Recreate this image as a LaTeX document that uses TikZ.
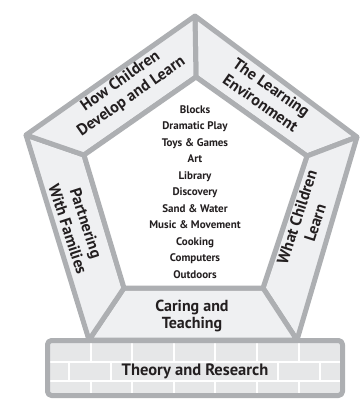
\documentclass[tikz,border=0pt]{standalone}
\usepackage{fontspec}
\setmainfont{PT Sans}
\usepackage{tikz}

\definecolor{rimgray}{RGB}{173,175,178}
\definecolor{segfill}{RGB}{239,240,242}
\definecolor{brickfill}{RGB}{230,231,232}
\definecolor{inkblack}{RGB}{35,31,32}

\tikzset{
  rim/.style={draw=rimgray, line width=5pt, line join=round},
  segment/.style={rim, fill=segfill},
  brickline/.style={draw=white, line width=1.5pt},
  seglabel/.style={font=\bfseries\fontsize{16}{19}\selectfont, align=center, text=inkblack},
  arealabel/.style={font=\bfseries\fontsize{11}{16.5}\selectfont, align=center, text=inkblack}
}

\begin{document}
\begin{tikzpicture}[x=1pt,y=-1pt]
		\useasboundingbox (0,0) rectangle (362,400);
		
		\coordinate (O_1) at (195, 16);
		\coordinate (O_2) at (357, 137);
		\coordinate (O_3) at (297, 340);
		\coordinate (O_4) at (89, 340);
		\coordinate (O_5) at (26, 135);
		
		\coordinate (I_1) at (196, 77);
		\coordinate (I_2) at (307, 156);
		\coordinate (I_3) at (263, 288);
		\coordinate (I_4) at (124, 288);
		\coordinate (I_5) at (84, 155);
		
		% wall
		\fill[brickfill, rounded corners=4pt] (47.5,340.5) rectangle (342.5,395.5);
		\draw[brickline] (50,362) -- (340,362);
		\draw[brickline] (50,381) -- (340,381);
		\foreach \x in {91, 132, 174, 215, 257, 299} {
			\draw[brickline] (\x,343) -- (\x,362);
			\draw[brickline] (\x,381) -- (\x,393);
		}
		\foreach \x in {69, 111, 153, 194, 236, 278, 320}
			\draw[brickline] (\x,362) -- (\x,381);
		\node[seglabel, font=\bfseries\fontsize{16.5}{18}\selectfont, fill=brickfill, inner sep=0pt, minimum width=162pt, minimum height=17pt] (theory) at (195, 371.5) {Theory and Research};
		\draw[rim, rounded corners=4pt] (47.5,340.5) rectangle (342.5,395.5);
		
		% pentagon
		\foreach \a/\b in {1/2, 2/3, 3/4, 4/5, 5/1}
			\filldraw[segment] (O_\a) -- (O_\b) -- (I_\b) -- (I_\a) -- cycle;
		\filldraw[rim, fill=white] (I_1) -- (I_2) -- (I_3) -- (I_4) -- (I_5) -- cycle;
		
		\node[seglabel, rotate=35] (develop) at (126, 89) {How Children\\Develop and Learn};
		\node[seglabel, rotate=-35] (environment) at (266, 95) {The Learning\\Environment};
		\node[seglabel, rotate=72] (whatlearn) at (306, 220) {What Children\\Learn};
		\node[seglabel, rotate=-72] (families) at (77, 226) {Partnering\\With Families};
		\node[seglabel, font=\bfseries\fontsize{16}{17}\selectfont] (caring) at (192, 316) {Caring and\\Teaching};
		
		\node[arealabel] (areas) at (195, 192) {Blocks\\Dramatic Play\\Toys \& Games\\Art\\Library\\Discovery\\Sand \& Water\\Music \& Movement\\Cooking\\Computers\\Outdoors};
	\end{tikzpicture}
\end{document}
